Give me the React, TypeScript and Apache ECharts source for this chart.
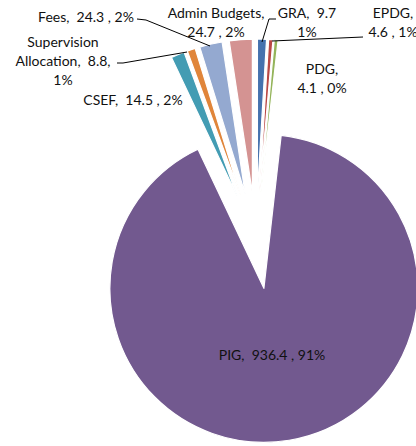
import React, { useEffect, useRef } from "react";
import * as echarts from "echarts";

const categories = ["GRA", "EPDG", "PDG", "PIG", "CSEF", "Supervision Allocation", "Fees", "Admin Budgets"];
const values = [9.7, 4.6, 4.1, 936.4, 14.5, 8.8, 24.3, 24.7];
const colors = ["#4572AE", "#B94744", "#94B45A", "#72598F", "#439CB3", "#E0853A", "#94A9D0", "#D49392"];

// label block centres (layout only)
const labelPos: number[][] = [
  [307, 22],
  [393, 22],
  [322, 78],
  [272, 354],
  [133, 99],
  [63, 60],
  [86, 16],
  [216, 22],
];

// leader lines (decoration only)
const leaders: number[][][] = [
  [[276, 19], [269, 19], [262, 42]],
  [[363, 37], [272, 41]],
  [[117, 63], [123, 63], [187, 52]],
  [[137, 19], [146, 20], [210, 46]],
];

// whole-number percentages that sum to 100 (largest remainder)
function percents(vals: number[]): number[] {
  const total = vals.reduce((a, b) => a + b, 0);
  const raw = vals.map((v) => (v / total) * 100);
  const out = raw.map((r) => Math.floor(r));
  const left = 100 - out.reduce((a, b) => a + b, 0);
  const order = raw.map((r, i) => [r - Math.floor(r), i]).sort((a, b) => b[0] - a[0]);
  for (let k = 0; k < left; k++) out[order[k][1]] += 1;
  return out;
}

function formatLabel(i: number, name: string, v: number, p: number): string {
  switch (i) {
    case 0:
      return `${name},  ${v}\n${p}%`;
    case 1:
    case 2:
    case 7:
      return `${name},\n${v} , ${p}%`;
    case 5:
      return `Supervision\nAllocation,  ${v},\n${p}%`;
    default:
      return `${name},  ${v} , ${p}%`;
  }
}

export default function App() {
  const ref = useRef<HTMLDivElement>(null);
  useEffect(() => {
    if (!ref.current) return;
    const chart = echarts.init(ref.current, undefined, { renderer: "svg" });
    const pct = percents(values);
    chart.setOption({
      animation: false,
      backgroundColor: "#ffffff",
      series: [
        {
          type: "pie",
          center: [256, 241],
          radius: [0, 154],
          startAngle: 90,
          clockwise: true,
          selectedMode: "multiple",
          selectedOffset: 48,
          avoidLabelOverlap: false,
          silent: true,
          z: 1,
          itemStyle: { borderColor: "#ffffff", borderWidth: 1.2 },
          select: { itemStyle: { borderColor: "#ffffff", borderWidth: 1.2 } },
          label: { show: false },
          labelLine: { show: false },
          data: categories.map((c, i) => ({
            name: c,
            value: values[i],
            selected: true,
            itemStyle: { color: colors[i] },
            select: { itemStyle: { color: colors[i] } },
          })),
        },
      ],
      graphic: [
        ...leaders.map((pts) => ({
          type: "polyline",
          z: 100,
          shape: { points: pts },
          style: { stroke: "#000000", lineWidth: 1, fill: null },
          silent: true,
        })),
        ...categories.map((c, i) => ({
          type: "text",
          z: 100,
          x: labelPos[i][0],
          y: labelPos[i][1],
          silent: true,
          style: {
            text: formatLabel(i, c, values[i], pct[i]),
            fontFamily: "Lato",
            fontSize: 14,
            lineHeight: 19,
            fill: "#111111",
            align: "center",
            verticalAlign: "middle",
          },
        })),
      ],
    });
    return () => chart.dispose();
  }, []);
  return <div ref={ref} style={{ position: "absolute", left: 0, top: 0, width: 416, height: 446 }} />;
}
